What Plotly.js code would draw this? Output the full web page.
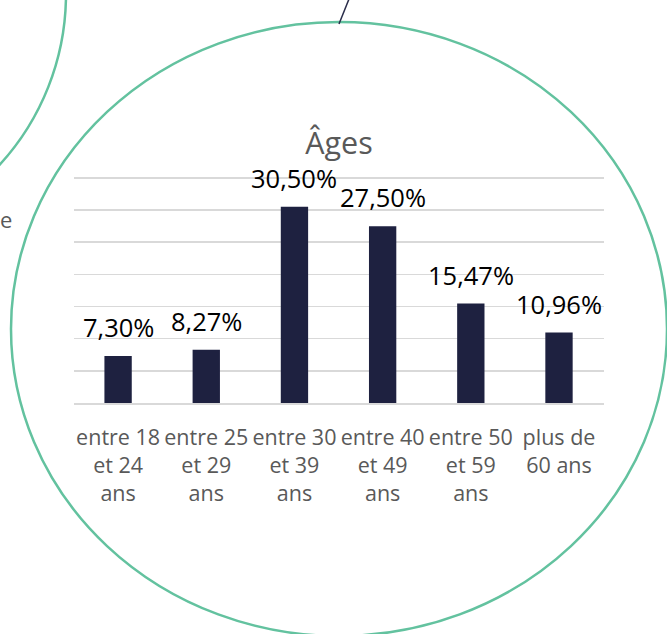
<!DOCTYPE html>
<html>
<head>
<meta charset="utf-8">
<script src="https://cdn.plot.ly/plotly-3.0.1.min.js"></script>
<style>
  html, body { margin: 0; padding: 0; background: #ffffff; }
  #chart { width: 667px; height: 634px; }
</style>
</head>
<body>
<div id="chart"></div>
<script>
// ---- data ----
const categories = [
  "entre 18<br>et 24<br>ans",
  "entre 25<br>et 29<br>ans",
  "entre 30<br>et 39<br>ans",
  "entre 40<br>et 49<br>ans",
  "entre 50<br>et 59<br>ans",
  "plus de<br>60 ans"
];
const values = [7.30, 8.27, 30.50, 27.50, 15.47, 10.96];
const valueLabels = ["7,30%", "8,27%", "30,50%", "27,50%", "15,47%", "10,96%"];
const chartTitle = "Âges";

// ---- layout helpers (pixel -> paper) ----
const W = 667, H = 634;
const L = 74, R = 604, T = 176, B = 403;
const px = v => (v - L) / (R - L);
const py = v => (B - v) / (B - T);

const FONT = "Open Sans, Lato, sans-serif";
const teal = "#63c29f";

const trace = {
  type: "bar",
  x: categories,
  y: values,
  marker: { color: "#1e2140" },
  hoverinfo: "none",
  cliponaxis: false
};

const annotations = categories.map((c, i) => ({
  x: c, y: values[i], xref: "x", yref: "y",
  text: valueLabels[i], showarrow: false,
  yanchor: "middle", yshift: 29,
  font: { family: FONT, size: 25.5, color: "#000000" }
}));

annotations.push({
  xref: "paper", yref: "paper", x: px(14), y: py(219),
  xanchor: "right", yanchor: "middle", text: "e", showarrow: false,
  font: { family: FONT, size: 22, color: "#595959" }
});

const layout = {
  width: W, height: H,
  margin: { l: L, r: W - R, t: T, b: H - B, pad: 0 },
  paper_bgcolor: "#ffffff",
  plot_bgcolor: "#ffffff",
  showlegend: false,
  bargap: 0.69,
  title: {
    text: chartTitle,
    xref: "paper", x: 0.5, xanchor: "center",
    yref: "container", y: 1 - 143 / H, yanchor: "middle",
    font: { family: FONT, size: 30.5, color: "#595959" }
  },
  xaxis: {
    type: "category",
    showgrid: false, zeroline: false,
    showline: true, linecolor: "#d9d9d9", linewidth: 1.5,
    ticks: "",
    tickfont: { family: FONT, size: 21.5, color: "#595959" },
    ticklabelstandoff: 15
  },
  yaxis: {
    range: [0, 35.3], tickvals: [5, 10, 15, 20, 25, 30, 35],
    showgrid: true, gridcolor: "#d9d9d9", gridwidth: 1.5,
    zeroline: false, showticklabels: false, ticks: ""
  },
  annotations: annotations,
  shapes: [
    { type: "circle", xref: "paper", yref: "paper", layer: "above",
      x0: px(11), x1: px(667), y0: py(636), y1: py(22),
      line: { color: teal, width: 2.5 } },
    { type: "circle", xref: "paper", yref: "paper", layer: "above",
      x0: px(-440), x1: px(66), y0: py(247), y1: py(-259),
      line: { color: teal, width: 2.5 } },
    { type: "line", xref: "paper", yref: "paper", layer: "above",
      x0: px(339), x1: px(349), y0: py(24), y1: py(-1),
      line: { color: "#2a2d4a", width: 1.5 } }
  ]
};

Plotly.newPlot("chart", [trace], layout, { staticPlot: true, displayModeBar: false });
</script>
</body>
</html>
